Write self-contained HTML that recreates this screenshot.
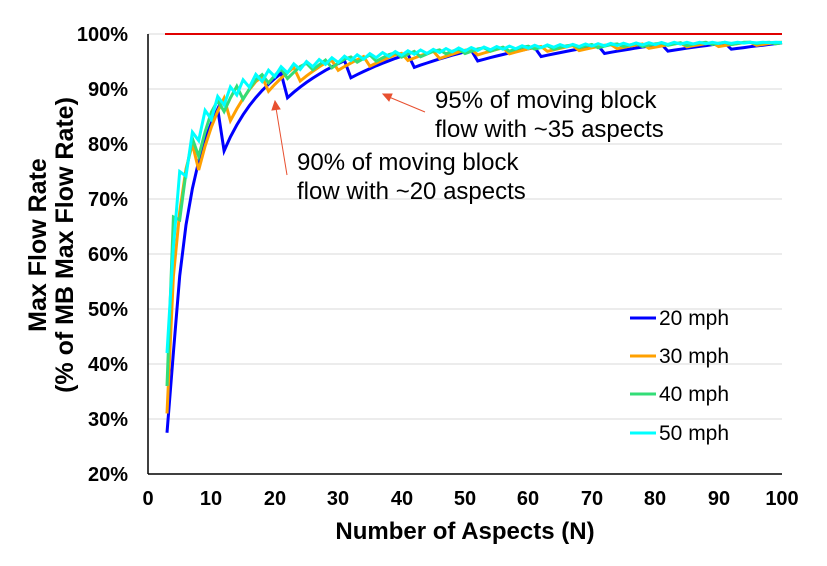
<!DOCTYPE html>
<html><head><meta charset="utf-8"><style>
body{margin:0;background:#fff}
text{font-family:"Liberation Sans",Arial,sans-serif}
</style></head><body>
<svg id="s" width="827" height="561" xmlns="http://www.w3.org/2000/svg">
<rect width="827" height="561" fill="#fff"/>
<g stroke="#d9d9d9" stroke-width="1">
<line x1="148" x2="782" y1="419" y2="419"/><line x1="148" x2="782" y1="364" y2="364"/>
<line x1="148" x2="782" y1="309" y2="309"/><line x1="148" x2="782" y1="254" y2="254"/>
<line x1="148" x2="782" y1="199" y2="199"/><line x1="148" x2="782" y1="144" y2="144"/>
<line x1="148" x2="782" y1="89" y2="89"/><line x1="148" x2="782" y1="34" y2="34"/>
</g>
<line x1="165" x2="782" y1="34" y2="34" stroke="#e00000" stroke-width="2"/>
<g id="series" fill="none" stroke-width="3" stroke-linejoin="miter"></g>
<line x1="148" x2="148" y1="34" y2="474" stroke="#000" stroke-width="1.5"/>
<line x1="148" x2="782" y1="474" y2="474" stroke="#000" stroke-width="1.5"/>
<g font-size="20" font-weight="bold" text-anchor="end">
<text x="128" y="481">20%</text><text x="128" y="426">30%</text><text x="128" y="371">40%</text>
<text x="128" y="316">50%</text><text x="128" y="261">60%</text><text x="128" y="206">70%</text>
<text x="128" y="151">80%</text><text x="128" y="96">90%</text><text x="128" y="41">100%</text>
</g>
<g font-size="20" font-weight="bold" text-anchor="middle">
<text x="148" y="505">0</text><text x="211" y="505">10</text><text x="275" y="505">20</text>
<text x="338" y="505">30</text><text x="402" y="505">40</text><text x="465" y="505">50</text>
<text x="528" y="505">60</text><text x="592" y="505">70</text><text x="655" y="505">80</text>
<text x="719" y="505">90</text><text x="782" y="505">100</text>
</g>
<text x="465" y="539" font-size="24" font-weight="bold" text-anchor="middle">Number of Aspects (N)</text>
<g font-size="25" font-weight="bold" text-anchor="middle">
<text transform="translate(46,245) rotate(-90)">Max Flow Rate</text>
<text transform="translate(73,245) rotate(-90)">(% of MB Max Flow Rate)</text>
</g>
<g font-size="21">
<line x1="630" x2="656" y1="318" y2="318" stroke="#0000ff" stroke-width="3"/><text x="659" y="325">20 mph</text>
<line x1="630" x2="656" y1="356" y2="356" stroke="#ffa000" stroke-width="3"/><text x="659" y="363">30 mph</text>
<line x1="630" x2="656" y1="394" y2="394" stroke="#33dd77" stroke-width="3"/><text x="659" y="401">40 mph</text>
<line x1="630" x2="656" y1="433" y2="433" stroke="#00ffff" stroke-width="3"/><text x="659" y="440">50 mph</text>
</g>
<g font-size="24">
<text x="435" y="108">95% of moving block</text><text x="435" y="137">flow with ~35 aspects</text>
<text x="297" y="170">90% of moving block</text><text x="297" y="199">flow with ~20 aspects</text>
</g>
<g stroke="#e85030" stroke-width="1" fill="#e85030">
<line x1="287" y1="175" x2="276" y2="108"/><polygon points="275,101 272,110 280,109"/>
<line x1="425" y1="112" x2="389" y2="97"/><polygon points="383,94 389,101 392,94"/>
</g>
</svg>
<script>
var X=function(n){return 148+n*6.34},Y=function(p){return 474-(p*100-20)*5.5};
var S=[["#0000ff",10,2,0.275,1.5,1.05],["#ffa000",5.5,2,0.31,1.4,0.65],["#33dd77",3.5,1,0.36,1.33,0.45],["#00ffff",2,0,0.42,1.25,0.3]];
var g=document.getElementById("series"),h="";
S.forEach(function(s){var P=s[1],o=s[2],d="";
for(var n=3;n<=100;n++){var v;
if(n==3)v=s[3];else{
var t=((n-o)/P)%1;if(t<0)t+=1;
var c=s[4]+s[5]*(1-Math.min(1,t/(1-1/P)));
v=1-c/n;}
v=Math.min(v,0.985);
d+=(n==3?"M":"L")+X(n).toFixed(1)+","+Y(v).toFixed(1);}
h+='<path d="'+d+'" stroke="'+s[0]+'"/>';});
g.innerHTML=h;
</script>
</body></html>
